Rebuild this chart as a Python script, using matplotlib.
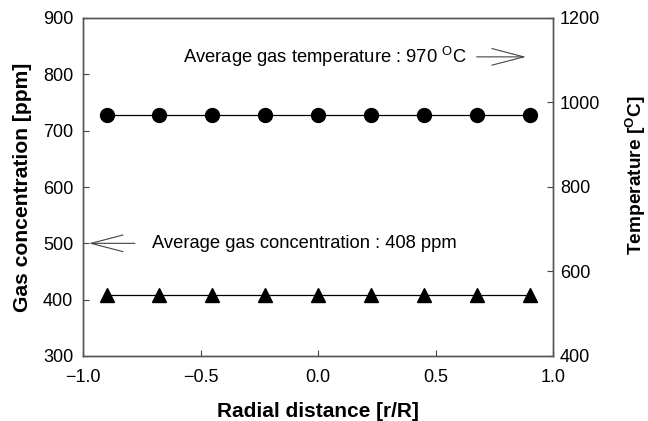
import matplotlib
matplotlib.use("Agg")
import matplotlib.pyplot as plt

plt.rcParams['font.family'] = ['Liberation Sans', 'DejaVu Sans']
plt.rcParams['mathtext.fontset'] = 'custom'
plt.rcParams['mathtext.rm'] = 'Liberation Sans'
plt.rcParams['mathtext.bf'] = 'Liberation Sans:bold'

radial = [-0.9, -0.675, -0.45, -0.225, 0.0, 0.225, 0.45, 0.675, 0.9]
temperature = [970, 970, 970, 970, 970, 970, 970, 970, 970]
concentration = [408, 408, 408, 408, 408, 408, 408, 408, 408]
x_ticks = [-1.0, -0.5, 0.0, 0.5, 1.0]
left_ticks = [300, 400, 500, 600, 700, 800, 900]
right_ticks = [400, 600, 800, 1000, 1200]

fig = plt.figure(figsize=(6.48, 4.21), dpi=100)
ax = fig.add_axes([83/648, 1 - 356/421, 470/648, 338/421])
ax2 = ax.twinx()

ax.plot(radial, concentration, color='black', lw=0.9, marker='^', ms=9.5,
        markerfacecolor='black', markeredgecolor='black')
ax2.plot(radial, temperature, color='black', lw=0.9, marker='o', ms=10,
         markerfacecolor='black', markeredgecolor='black')

ax.set_xlim(-1, 1)
ax.set_ylim(300, 900)
ax2.set_ylim(400, 1200)
ax.set_xticks(x_ticks)
ax.set_xticklabels(['\u22121.0', '\u22120.5', '0.0', '0.5', '1.0'])
ax.set_yticks(left_ticks)
ax2.set_yticks(right_ticks)

for a in (ax, ax2):
    a.tick_params(direction='in', length=4, width=0.8, labelsize=13, color='#444444')
    for s in a.spines.values():
        s.set_color('#555555')
        s.set_linewidth(1.0)
ax.tick_params(axis='x', pad=9)
ax.tick_params(axis='y', pad=7)
ax2.tick_params(axis='y', pad=5)

ax.set_xlabel('Radial distance [r/R]', fontsize=15, fontweight='bold', labelpad=12)
ax.set_ylabel('Gas concentration [ppm]', fontsize=15.2, fontweight='bold', labelpad=8)
ax2.set_ylabel(r'Temperature [$\mathbf{^{O}}$C]', fontsize=13.8, fontweight='bold')
ax2.yaxis.set_label_coords((624 - 83) / 470, (356 - 175) / 338)

ax.text(-0.574, 831, r'Average gas temperature : 970 $\mathrm{^{O}}$C', fontsize=13.2,
        va='center', ha='left')
arrow_style = '->,head_length=1.15,head_width=0.3'
ax.annotate('', xy=(0.885, 831), xytext=(0.675, 831),
            arrowprops=dict(arrowstyle=arrow_style, color='#444444', lw=0.8,
                            mutation_scale=20, shrinkA=0, shrinkB=0))
ax.text(-0.706, 500, 'Average gas concentration : 408 ppm', fontsize=13.2,
        va='center', ha='left')
ax.annotate('', xy=(-0.975, 500), xytext=(-0.779, 500),
            arrowprops=dict(arrowstyle=arrow_style, color='#444444', lw=0.8,
                            mutation_scale=20, shrinkA=0, shrinkB=0))

fig.savefig('out.png', dpi=100)
